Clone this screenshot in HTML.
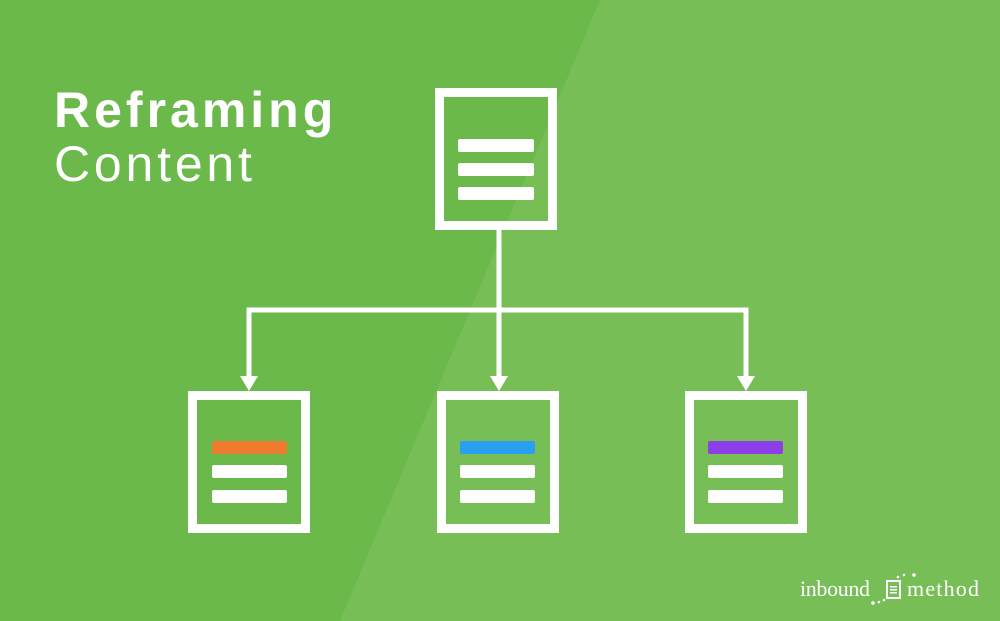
<!DOCTYPE html>
<html><head><meta charset="utf-8"><style>
html,body{margin:0;padding:0}
body{width:1000px;height:621px;overflow:hidden;position:relative;background:#77be57;font-family:"Liberation Sans",sans-serif}
.t{position:absolute;left:54px;color:#fff;font-size:50px;line-height:1;white-space:nowrap}
</style></head><body>
<svg width="1000" height="621" style="position:absolute;left:0;top:0">
<polygon points="0,0 600,0 340,621 0,621" fill="#6ab94a"/>
<g fill="none" stroke="#fff">
<rect x="439.5" y="92.5" width="113" height="133" stroke-width="9"/>
<rect x="192.5" y="395.5" width="113" height="133" stroke-width="9"/>
<rect x="441.5" y="395.5" width="113" height="133" stroke-width="9"/>
<rect x="689.5" y="395.5" width="113" height="133" stroke-width="9"/>
<path d="M499 230V378M249 378V310H746V378" stroke-width="5"/>
</g>
<g fill="#fff">
<polygon points="240,376 258,376 249,391"/>
<polygon points="490,376 508,376 499,391"/>
<polygon points="737,376 755,376 746,391"/>
<rect x="458" y="139" width="76" height="13" rx="2"/>
<rect x="458" y="163" width="76" height="13" rx="2"/>
<rect x="458" y="187" width="76" height="13" rx="2"/>
<rect x="212" y="465" width="75" height="13" rx="2"/>
<rect x="212" y="490" width="75" height="13" rx="2"/>
<rect x="460" y="465" width="75" height="13" rx="2"/>
<rect x="460" y="490" width="75" height="13" rx="2"/>
<rect x="708" y="465" width="75" height="13" rx="2"/>
<rect x="708" y="490" width="75" height="13" rx="2"/>
</g>
<rect x="212" y="441" width="75" height="13" rx="2" fill="#ee7a2e"/>
<rect x="460" y="441" width="75" height="13" rx="2" fill="#2a9ff0"/>
<rect x="708" y="441" width="75" height="13" rx="2" fill="#8c3fe8"/>
<g fill="#fff" font-family="Liberation Serif, serif" font-size="22">
<text x="800" y="596" textLength="70">inbound</text>
<text x="907" y="596" textLength="72">method</text>
</g>
<rect x="887" y="581" width="13" height="17" fill="none" stroke="#fff" stroke-width="2"/>
<g fill="#fff"><rect x="890" y="586" width="7" height="1.5"/><rect x="890" y="589" width="7" height="1.5"/><rect x="890" y="592" width="7" height="1.5"/>
<circle cx="873" cy="603" r="1.8"/><circle cx="879" cy="602" r="1.3"/><circle cx="884" cy="600" r="1.3"/><circle cx="898" cy="577" r="1.3"/><circle cx="904" cy="575" r="1.3"/><circle cx="914" cy="575" r="1.8"/></g>
</svg>
<div class="t" style="top:85px;font-weight:bold;letter-spacing:4px">Reframing</div>
<div class="t" style="top:139px;font-weight:300;letter-spacing:3.8px">Content</div>
</body></html>
